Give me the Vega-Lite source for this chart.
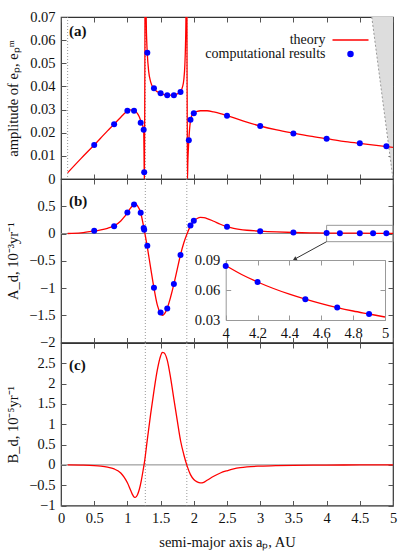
{
  "$schema": "https://vega.github.io/schema/vega-lite/v6.json",
  "padding": {"left": 4, "top": 8, "right": 5, "bottom": 5},
  "spacing": 0,
  "bounds": "flush",
  "datasets": {
    "theoryA": [
      {"a":0.1,"e":0.0027},{"a":0.3,"e":0.0088},{"a":0.5,"e":0.0147},{"a":0.7,"e":0.0208},{"a":0.8,"e":0.0237},{"a":0.9,"e":0.0267},{"a":0.95,"e":0.0282},{"a":1.0,"e":0.0294},{"a":1.05,"e":0.0299},{"a":1.1,"e":0.0296},{"a":1.15,"e":0.0284},{"a":1.18,"e":0.0268},{"a":1.2,"e":0.0252},{"a":1.22,"e":0.0238},{"a":1.235,"e":0.0226},{"a":1.245,"e":0.0212},{"a":1.25,"e":0.012},{"a":1.253,"e":0.003},{"a":1.2555,"e":0.0},{"a":1.258,"e":0.012},{"a":1.261,"e":0.03},{"a":1.264,"e":0.06},{"a":1.267,"e":0.12},{"a":1.276,"e":0.12},{"a":1.28,"e":0.08},{"a":1.285,"e":0.066},{"a":1.29,"e":0.0605},{"a":1.3,"e":0.054},{"a":1.32,"e":0.0466},{"a":1.35,"e":0.042},{"a":1.4,"e":0.039},{"a":1.45,"e":0.0377},{"a":1.5,"e":0.037},{"a":1.55,"e":0.0365},{"a":1.6,"e":0.0362},{"a":1.65,"e":0.0362},{"a":1.7,"e":0.0364},{"a":1.75,"e":0.0368},{"a":1.8,"e":0.0378},{"a":1.83,"e":0.0398},{"a":1.85,"e":0.043},{"a":1.865,"e":0.049},{"a":1.875,"e":0.058},{"a":1.882,"e":0.07},{"a":1.888,"e":0.12},{"a":1.894,"e":0.12},{"a":1.898,"e":0.05},{"a":1.902,"e":0.02},{"a":1.905,"e":0.0},{"a":1.91,"e":0.007},{"a":1.92,"e":0.014},{"a":1.925,"e":0.0168},{"a":1.935,"e":0.021},{"a":1.95,"e":0.0252},{"a":1.97,"e":0.0274},{"a":2.0,"e":0.0285},{"a":2.05,"e":0.0292},{"a":2.1,"e":0.0295},{"a":2.2,"e":0.0295},{"a":2.3,"e":0.029},{"a":2.4,"e":0.0283},{"a":2.5,"e":0.0274},{"a":2.75,"e":0.025},{"a":3.0,"e":0.0229},{"a":3.25,"e":0.0212},{"a":3.5,"e":0.0198},{"a":3.75,"e":0.0185},{"a":4.0,"e":0.0174},{"a":4.25,"e":0.0163},{"a":4.5,"e":0.0154},{"a":4.75,"e":0.0145},{"a":5.0,"e":0.0137}
    ],
    "pointsA": [
      {"a":0.5,"e":0.0147},{"a":0.8,"e":0.0237},{"a":1.0,"e":0.0295},{"a":1.1,"e":0.0295},{"a":1.2,"e":0.0243},{"a":1.245,"e":0.0213},{"a":1.253,"e":0.0029},{"a":1.3,"e":0.0546},{"a":1.4,"e":0.0392},{"a":1.5,"e":0.0371},{"a":1.6,"e":0.0362},{"a":1.7,"e":0.0362},{"a":1.8,"e":0.0376},{"a":1.925,"e":0.0167},{"a":1.95,"e":0.0256},{"a":2.0,"e":0.0284},{"a":2.5,"e":0.0273},{"a":3.0,"e":0.0229},{"a":3.5,"e":0.0197},{"a":4.0,"e":0.0174},{"a":4.5,"e":0.0154},{"a":4.9,"e":0.0141}
    ],
    "forbidden": [{"a":4.68,"e":0.07},{"a":5.0,"e":0.0}],
    "vlinesA": [{"a":0.1},{"a":1.27},{"a":1.895}],
    "resonances": [{"a":1.27},{"a":1.895}],
    "theoryB": [
      {"a":0.1,"v":0.0},{"a":0.3,"v":0.012},{"a":0.5,"v":0.045},{"a":0.6,"v":0.065},{"a":0.7,"v":0.095},{"a":0.8,"v":0.14},{"a":0.9,"v":0.23},{"a":0.95,"v":0.3},{"a":1.0,"v":0.38},{"a":1.05,"v":0.47},{"a":1.1,"v":0.535},{"a":1.125,"v":0.54},{"a":1.15,"v":0.51},{"a":1.2,"v":0.38},{"a":1.25,"v":0.09},{"a":1.3,"v":-0.25},{"a":1.35,"v":-0.63},{"a":1.4,"v":-1.0},{"a":1.45,"v":-1.31},{"a":1.5,"v":-1.47},{"a":1.53,"v":-1.5},{"a":1.56,"v":-1.47},{"a":1.6,"v":-1.37},{"a":1.65,"v":-1.17},{"a":1.7,"v":-0.93},{"a":1.75,"v":-0.66},{"a":1.8,"v":-0.39},{"a":1.85,"v":-0.17},{"a":1.9,"v":0.0},{"a":1.95,"v":0.14},{"a":2.0,"v":0.23},{"a":2.05,"v":0.275},{"a":2.1,"v":0.295},{"a":2.15,"v":0.29},{"a":2.2,"v":0.275},{"a":2.3,"v":0.225},{"a":2.4,"v":0.17},{"a":2.5,"v":0.125},{"a":2.6,"v":0.095},{"a":2.8,"v":0.06},{"a":3.0,"v":0.043},{"a":3.25,"v":0.028},{"a":3.5,"v":0.018},{"a":3.75,"v":0.012},{"a":4.0,"v":0.0085},{"a":4.5,"v":0.0051},{"a":5.0,"v":0.0033}
    ],
    "pointsB": [
      {"a":0.5,"v":0.049},{"a":0.8,"v":0.135},{"a":1.0,"v":0.386},{"a":1.1,"v":0.534},{"a":1.2,"v":0.38},{"a":1.245,"v":0.1},{"a":1.253,"v":0.07},{"a":1.3,"v":-0.227},{"a":1.4,"v":-0.994},{"a":1.5,"v":-1.448},{"a":1.6,"v":-1.374},{"a":1.7,"v":-0.926},{"a":1.8,"v":-0.393},{"a":1.95,"v":0.147},{"a":2.0,"v":0.233},{"a":2.5,"v":0.123},{"a":3.0,"v":0.043},{"a":3.5,"v":0.018},{"a":4.0,"v":0.0085},{"a":4.2,"v":0.0068},{"a":4.5,"v":0.0051},{"a":4.7,"v":0.0042},{"a":4.9,"v":0.0036}
    ],
    "zoombox": [{"a1":4.0,"a2":5.0,"v1":-0.15,"v2":0.15}],
    "arrow": [{"a1":4.0,"v1":-0.15,"a2":3.52,"v2":-0.47}],
    "theoryInset": [
      {"a":4.0,"v":0.0845},{"a":4.1,"v":0.0755},{"a":4.2,"v":0.068},{"a":4.3,"v":0.0615},{"a":4.4,"v":0.0558},{"a":4.5,"v":0.0508},{"a":4.6,"v":0.0463},{"a":4.7,"v":0.0424},{"a":4.8,"v":0.039},{"a":4.9,"v":0.036},{"a":5.0,"v":0.033}
    ],
    "pointsInset": [
      {"a":4.0,"v":0.084},{"a":4.2,"v":0.0679},{"a":4.5,"v":0.0508},{"a":4.7,"v":0.0424},{"a":4.9,"v":0.036}
    ],
    "theoryC": [
      {"a":0.1,"v":-0.001},{"a":0.3,"v":-0.005},{"a":0.5,"v":-0.016},{"a":0.6,"v":-0.03},{"a":0.7,"v":-0.055},{"a":0.8,"v":-0.1},{"a":0.9,"v":-0.2},{"a":0.95,"v":-0.3},{"a":1.0,"v":-0.44},{"a":1.05,"v":-0.63},{"a":1.08,"v":-0.74},{"a":1.1,"v":-0.79},{"a":1.12,"v":-0.8},{"a":1.15,"v":-0.74},{"a":1.18,"v":-0.6},{"a":1.21,"v":-0.38},{"a":1.24,"v":-0.1},{"a":1.26,"v":0.1},{"a":1.3,"v":0.62},{"a":1.35,"v":1.25},{"a":1.4,"v":1.82},{"a":1.45,"v":2.33},{"a":1.5,"v":2.68},{"a":1.525,"v":2.77},{"a":1.55,"v":2.76},{"a":1.6,"v":2.58},{"a":1.65,"v":2.15},{"a":1.7,"v":1.62},{"a":1.75,"v":1.1},{"a":1.8,"v":0.6},{"a":1.85,"v":0.25},{"a":1.9,"v":-0.03},{"a":1.95,"v":-0.24},{"a":2.0,"v":-0.36},{"a":2.05,"v":-0.42},{"a":2.1,"v":-0.445},{"a":2.15,"v":-0.43},{"a":2.2,"v":-0.38},{"a":2.3,"v":-0.28},{"a":2.4,"v":-0.2},{"a":2.5,"v":-0.145},{"a":2.6,"v":-0.1},{"a":2.7,"v":-0.07},{"a":2.8,"v":-0.05},{"a":3.0,"v":-0.03},{"a":3.25,"v":-0.017},{"a":3.5,"v":-0.01},{"a":4.0,"v":-0.004},{"a":4.5,"v":-0.002},{"a":5.0,"v":-0.001}
    ]
  },
  "vconcat": [
    {
      "width": 332,
      "height": 162,
      "title": {"text": "(a)", "anchor": "start", "frame": "group", "offset": -30, "dx": 8, "fontSize": 15, "fontWeight": "bold", "font": "Liberation Serif", "color": "#111"},
      "resolve": {"axis": {"x": "independent", "y": "independent"}},
      "layer": [
        {
          "data": {"name": "forbidden"},
          "mark": {"type": "area", "color": "#dddddd", "opacity": 1},
          "encoding": {
            "x": {"field": "a", "type": "quantitative", "scale": {"domain": [0, 5], "nice": false, "zero": false},
                  "axis": {"orient": "bottom", "labels": false, "title": null, "values": [0,0.5,1,1.5,2,2.5,3,3.5,4,4.5,5]}},
            "y": {"field": "e", "type": "quantitative", "scale": {"domain": [0, 0.07], "nice": false, "zero": false},
                  "axis": {"orient": "left", "values": [0,0.01,0.02,0.03,0.04,0.05,0.06,0.07], "format": "~g", "title": "amplitude of eₚ, eₚᵐ", "titleX": -48, "titleY": 81, "titleAngle": 270, "titleBaseline": "middle", "titleAlign": "center"}},
            "y2": {"datum": 0.07}
          }
        },
        {
          "data": {"name": "forbidden"},
          "mark": {"type": "line", "color": "#999999", "strokeWidth": 1, "strokeDash": [2, 2]},
          "encoding": {
            "x": {"field": "a", "type": "quantitative", "axis": null},
            "y": {"field": "e", "type": "quantitative", "axis": null}
          }
        },
        {
          "data": {"name": "vlinesA"},
          "mark": {"type": "rule", "color": "#999999", "strokeWidth": 1, "strokeDash": [1, 2]},
          "encoding": {
            "x": {"field": "a", "type": "quantitative", "axis": {"orient": "top", "labels": false, "title": null, "values": [0,0.5,1,1.5,2,2.5,3,3.5,4,4.5,5]}}
          }
        },
        {
          "data": {"name": "theoryA"},
          "mark": {"type": "line", "strokeWidth": 1.3, "clip": true, "interpolate": "monotone"},
          "encoding": {
            "x": {"field": "a", "type": "quantitative", "axis": null},
            "y": {"field": "e", "type": "quantitative", "axis": {"orient": "right", "labels": false, "title": null, "values": [0,0.01,0.02,0.03,0.04,0.05,0.06,0.07]}},
            "color": {"datum": "theory", "type": "nominal",
                      "scale": {"domain": ["theory", "computational results"], "range": ["#ff0000", "#0000ff"]},
                      "legend": {"title": null, "encode": {"symbols": {"update": {"stroke": {"scale": "color", "field": "value"}, "strokeWidth": {"value": 1.5}}}}}}
          }
        },
        {
          "data": {"name": "pointsA"},
          "mark": {"type": "point", "filled": true, "opacity": 1, "size": 36},
          "encoding": {
            "x": {"field": "a", "type": "quantitative", "axis": null},
            "y": {"field": "e", "type": "quantitative", "axis": null},
            "color": {"datum": "computational results", "type": "nominal"},
            "shape": {"datum": "computational results", "type": "nominal",
                      "scale": {"domain": ["theory", "computational results"], "range": ["M-7.2,0H7.2", "circle"]},
                      "legend": {"title": null}}
          }
        }
      ]
    },
    {
      "width": 332,
      "height": 163.5,
      "title": {"text": "(b)", "anchor": "start", "frame": "group", "offset": -30, "dx": 8, "fontSize": 15, "fontWeight": "bold", "font": "Liberation Serif", "color": "#111"},
      "resolve": {"scale": {"x": "independent", "y": "independent"}, "axis": {"x": "independent", "y": "independent"}},
      "layer": [
        {
          "resolve": {"axis": {"x": "independent", "y": "independent"}},
          "layer": [
            {
              "data": {"values": [{}]},
              "mark": {"type": "rule", "color": "#888888", "strokeWidth": 1},
              "encoding": {
                "y": {"datum": 0, "type": "quantitative", "scale": {"domain": [-2, 1], "nice": false, "zero": false},
                      "axis": {"orient": "left", "values": [-2,-1.5,-1,-0.5,0,0.5], "format": "~g", "title": "A_d, 10⁻³yr⁻¹", "titleX": -48, "titleY": 81.75, "titleAngle": 270, "titleBaseline": "middle", "titleAlign": "center"}}
              }
            },
            {
              "data": {"name": "resonances"},
              "mark": {"type": "rule", "color": "#999999", "strokeWidth": 1, "strokeDash": [1, 2]},
              "encoding": {
                "x": {"field": "a", "type": "quantitative", "scale": {"domain": [0, 5], "nice": false, "zero": false},
                      "axis": {"orient": "top", "labels": false, "title": null, "values": [0,0.5,1,1.5,2,2.5,3,3.5,4,4.5,5]}}
              }
            },
            {
              "data": {"name": "zoombox"},
              "mark": {"type": "rect", "fill": null, "fillOpacity": 0, "stroke": "#999999", "strokeWidth": 1},
              "encoding": {
                "x": {"field": "a1", "type": "quantitative", "axis": {"orient": "bottom", "labels": false, "title": null, "values": [0,0.5,1,1.5,2,2.5,3,3.5,4,4.5,5]}},
                "x2": {"field": "a2"},
                "y": {"field": "v1", "type": "quantitative", "axis": {"orient": "right", "labels": false, "title": null, "values": [-2,-1.5,-1,-0.5,0,0.5]}},
                "y2": {"field": "v2"}
              }
            },
            {
              "data": {"name": "arrow"},
              "mark": {"type": "rule", "color": "#333333", "strokeWidth": 1},
              "encoding": {
                "x": {"field": "a1", "type": "quantitative", "axis": null},
                "y": {"field": "v1", "type": "quantitative", "axis": null},
                "x2": {"field": "a2"},
                "y2": {"field": "v2"}
              }
            },
            {
              "data": {"name": "arrow"},
              "mark": {"type": "point", "shape": "triangle-up", "angle": 241, "filled": true, "color": "#333333", "size": 20, "opacity": 1},
              "encoding": {
                "x": {"field": "a2", "type": "quantitative", "axis": null},
                "y": {"field": "v2", "type": "quantitative", "axis": null}
              }
            },
            {
              "data": {"name": "theoryB"},
              "mark": {"type": "line", "color": "#ff0000", "strokeWidth": 1.3, "interpolate": "monotone"},
              "encoding": {
                "x": {"field": "a", "type": "quantitative", "axis": null},
                "y": {"field": "v", "type": "quantitative", "axis": null}
              }
            },
            {
              "data": {"name": "pointsB"},
              "mark": {"type": "point", "filled": true, "color": "#0000ff", "opacity": 1, "size": 36},
              "encoding": {
                "x": {"field": "a", "type": "quantitative", "axis": null},
                "y": {"field": "v", "type": "quantitative", "axis": null}
              }
            }
          ]
        },
        {
          "resolve": {"axis": {"x": "independent", "y": "independent"}},
          "layer": [
            {
              "data": {"name": "theoryInset"},
              "mark": {"type": "line", "color": "#ff0000", "strokeWidth": 1.3, "interpolate": "monotone"},
              "encoding": {
                "x": {"field": "a", "type": "quantitative", "scale": {"domain": [4, 5], "range": [164.7, 324], "nice": false, "zero": false},
                      "axis": {"orient": "bottom", "offset": -22.5, "values": [4,4.2,4.4,4.6,4.8,5], "format": "~g", "title": null, "domain": true, "domainColor": "#999999", "tickColor": "#999999"}},
                "y": {"field": "v", "type": "quantitative", "scale": {"domain": [0.03, 0.09], "range": [141, 81], "nice": false, "zero": false},
                      "axis": {"orient": "left", "offset": -164.7, "values": [0.03,0.06,0.09], "format": "~g", "title": null, "domain": true, "domainColor": "#999999", "tickColor": "#999999"}}
              }
            },
            {
              "data": {"name": "pointsInset"},
              "mark": {"type": "point", "filled": true, "color": "#0000ff", "opacity": 1, "size": 36},
              "encoding": {
                "x": {"field": "a", "type": "quantitative",
                      "axis": {"orient": "top", "offset": -81, "labels": false, "values": [4,4.2,4.4,4.6,4.8,5], "title": null, "domain": true, "domainColor": "#999999", "tickColor": "#999999"}},
                "y": {"field": "v", "type": "quantitative",
                      "axis": {"orient": "right", "offset": -8, "labels": false, "values": [0.03,0.06,0.09], "title": null, "domain": true, "domainColor": "#999999", "tickColor": "#999999"}}
              }
            }
          ]
        }
      ]
    },
    {
      "width": 332,
      "height": 162.5,
      "title": {"text": "(c)", "anchor": "start", "frame": "group", "offset": -30, "dx": 8, "fontSize": 15, "fontWeight": "bold", "font": "Liberation Serif", "color": "#111"},
      "resolve": {"axis": {"x": "independent", "y": "independent"}},
      "layer": [
        {
          "data": {"values": [{}]},
          "mark": {"type": "rule", "color": "#888888", "strokeWidth": 1},
          "encoding": {
            "y": {"datum": 0, "type": "quantitative", "scale": {"domain": [-1, 3], "nice": false, "zero": false},
                  "axis": {"orient": "left", "values": [-1,-0.5,0,0.5,1,1.5,2,2.5], "format": "~g", "title": "B_d, 10⁻⁵yr⁻¹", "titleX": -48, "titleY": 81.25, "titleAngle": 270, "titleBaseline": "middle", "titleAlign": "center"}}
          }
        },
        {
          "data": {"name": "resonances"},
          "mark": {"type": "rule", "color": "#999999", "strokeWidth": 1, "strokeDash": [1, 2]},
          "encoding": {
            "x": {"field": "a", "type": "quantitative", "scale": {"domain": [0, 5], "nice": false, "zero": false},
                  "axis": {"orient": "top", "labels": false, "title": null, "values": [0,0.5,1,1.5,2,2.5,3,3.5,4,4.5,5]}}
          }
        },
        {
          "data": {"name": "theoryC"},
          "mark": {"type": "line", "color": "#ff0000", "strokeWidth": 1.3, "interpolate": "monotone"},
          "encoding": {
            "x": {"field": "a", "type": "quantitative",
                  "axis": {"orient": "bottom", "values": [0,0.5,1,1.5,2,2.5,3,3.5,4,4.5,5], "format": "~g", "labelPadding": 11, "title": "semi-major axis aₚ, AU", "titlePadding": 10}},
            "y": {"field": "v", "type": "quantitative", "axis": {"orient": "right", "labels": false, "title": null, "values": [-1,-0.5,0,0.5,1,1.5,2,2.5]}}
          }
        }
      ]
    }
  ],
  "config": {
    "font": "Liberation Serif",
    "view": {"stroke": "#333333", "strokeWidth": 1.2},
    "axis": {"domain": false, "grid": false, "ticks": true, "tickSize": -5, "tickColor": "#555555", "tickWidth": 1, "labelPadding": 11, "labelFont": "Liberation Serif", "labelFontSize": 14.5, "labelColor": "#111111", "labelFlush": false, "labelOverlap": false, "titleFont": "Liberation Serif", "titleFontSize": 14.5, "titleFontWeight": "normal", "titleColor": "#111111"},
    "legend": {"orient": "none", "legendX": 267, "legendY": 16, "padding": 0, "labelFont": "Liberation Serif", "labelFontSize": 14, "labelColor": "#111111", "labelAlign": "right", "labelOffset": -32, "symbolOffset": 15.5, "symbolSize": 25, "symbolStrokeWidth": 1.5, "rowPadding": 0, "labelLimit": 300}
  }
}
